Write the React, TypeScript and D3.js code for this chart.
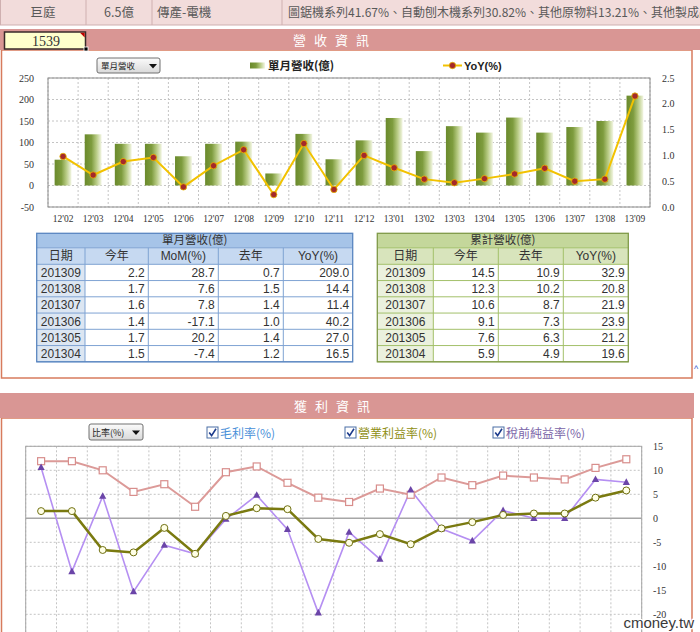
import React from 'react';
import * as d3 from 'd3';

// ---------- data ----------
const months = ["12'02", "12'03", "12'04", "12'05", "12'06", "12'07", "12'08", "12'09", "12'10", "12'11", "12'12", "13'01", "13'02", "13'03", "13'04", "13'05", "13'06", "13'07", "13'08", "13'09"];
const monthlyRevenue = [60, 119, 97, 97, 68, 97, 102, 28, 120, 61, 105, 157, 80, 138, 123, 158, 123, 136, 150, 209];
const yoyRatio = [0.98, 0.62, 0.88, 0.96, 0.39, 0.8, 1.11, 0.24, 1.23, 0.34, 1.0, 0.76, 0.54, 0.47, 0.55, 0.64, 0.75, 0.5, 0.54, 2.15];
const revLeftTicks = [-50, 0, 50, 100, 150, 200, 250];
const revRightTicks = [0, 0.5, 1.0, 1.5, 2.0, 2.5];

const grossMargin = [11.9, 11.9, 10.0, 5.5, 7.1, 2.4, 9.6, 10.8, 7.4, 4.3, 3.4, 6.2, 4.9, 8.5, 6.9, 8.9, 8.5, 8.1, 10.5, 12.3];
const operatingMargin = [1.5, 1.5, -6.6, -7.1, -2.0, -7.4, 0.5, 2.1, 1.9, -4.3, -5.1, -3.3, -5.4, -2.1, -0.8, 0.7, 1.0, 1.0, 4.3, 5.8];
const pretaxMargin = [10.6, -11.1, 4.6, -15.3, -5.6, -7.4, -0.2, 4.8, -2.3, -19.7, -2.9, -8.5, 5.9, -2.2, -4.7, 1.6, 0.0, 0.0, 8.1, 7.5];
const profitTicks = [15, 10, 5, 0, -5, -10, -15, -20];

const headerCells = ['巨庭', '6.5億', '傳產-電機', '圖鋸機系列41.67%、自動刨木機系列30.82%、其他原物料13.21%、其他製成品'];

const tableDates = ['201309', '201308', '201307', '201306', '201305', '201304'];
const monthThisYear = [2.2, 1.7, 1.6, 1.4, 1.7, 1.5];
const monthMoM = [28.7, 7.6, 7.8, -17.1, 20.2, -7.4];
const monthLastYear = [0.7, 1.5, 1.4, 1.0, 1.4, 1.2];
const monthYoY = [209.0, 14.4, 11.4, 40.2, 27.0, 16.5];
const cumThisYear = [14.5, 12.3, 10.6, 9.1, 7.6, 5.9];
const cumLastYear = [10.9, 10.2, 8.7, 7.3, 6.3, 4.9];
const cumYoY = [32.9, 20.8, 21.9, 23.9, 21.2, 19.6];

// ---------- scales ----------
const xRev = d3.scaleBand<string>().domain(months).range([48, 650]);
const yRevL = d3.scaleLinear().domain([-50, 250]).range([207, 78]);
const yRevR = d3.scaleLinear().domain([0, 2.5]).range([207, 78]);
const xPro = d3.scaleBand<string>().domain(months).range([25.7, 641.7]);
const yPro = d3.scaleLinear().domain([-25, 15]).range([638.3, 446.3]);

const f1 = (v: number) => d3.format('.1f')(v).replace('\u2212', '-');
const SANS = "'Liberation Sans', 'Noto Sans CJK TC', sans-serif";
const CJK = "'Noto Sans CJK TC', sans-serif";
const SERIF = "'Liberation Serif', serif";

type TableSpec = {
  edges: number[];
  title: string;
  heads: string[];
  cols: number[][];
  c1: string; c2: string; cDate: string; inner: string; outer: string;
};

const T_TOP = 233.3, T_H1 = 247.8, T_H2 = 264.3, T_ROW = 16.25;

function Table({ spec }: { spec: TableSpec }) {
  const { edges, title, heads, cols, c1, c2, cDate, inner, outer } = spec;
  const x0 = edges[0], x1 = edges[edges.length - 1];
  const yEnd = T_H2 + T_ROW * tableDates.length;
  return (
    <g fontFamily={SANS} fontSize={12} fill="#333">
      <rect x={x0} y={T_TOP} width={x1 - x0} height={T_H1 - T_TOP} fill={c1} />
      <rect x={x0} y={T_H1} width={x1 - x0} height={T_H2 - T_H1} fill={c2} />
      <rect x={x0} y={T_H2} width={edges[1] - x0} height={yEnd - T_H2} fill={cDate} />
      {[T_H1, T_H2, ...tableDates.map((_, i) => T_H2 + T_ROW * (i + 1))].map((y, i) => (
        <line key={'r' + i} x1={x0} x2={x1} y1={y} y2={y} stroke={inner} strokeWidth={1} />
      ))}
      {edges.slice(1, -1).map((x, i) => (
        <line key={'c' + i} x1={x} x2={x} y1={T_H1} y2={yEnd} stroke={inner} strokeWidth={1} />
      ))}
      <rect x={x0} y={T_TOP} width={x1 - x0} height={yEnd - T_TOP} fill="none" stroke={outer} strokeWidth={1.3} />
      <text x={(x0 + x1) / 2} y={T_TOP + 11} textAnchor="middle" fontFamily={CJK} fontSize={11.5}>{title}</text>
      {heads.map((h, i) => (
        <text key={'h' + i} x={(edges[i] + edges[i + 1]) / 2} y={T_H1 + 12.5} textAnchor="middle" fontSize={12}>{h}</text>
      ))}
      {tableDates.map((d, r) => (
        <g key={'d' + r}>
          <text x={(edges[0] + edges[1]) / 2} y={T_H2 + T_ROW * r + 12.5} textAnchor="middle">{d}</text>
          {cols.map((col, c) => (
            <text key={c} x={edges[c + 2] - 3.5} y={T_H2 + T_ROW * r + 12.5} textAnchor="end">{f1(col[r])}</text>
          ))}
        </g>
      ))}
    </g>
  );
}

const leftTable: TableSpec = {
  edges: [36.7, 85, 148.3, 218.3, 283.3, 352.7],
  title: '單月營收(億)',
  heads: ['日期', '今年', 'MoM(%)', '去年', 'YoY(%)'],
  cols: [monthThisYear, monthMoM, monthLastYear, monthYoY],
  c1: '#a6c4e8', c2: '#c6d9f1', cDate: '#dce6f2', inner: '#7fa3d3', outer: '#5a86c0',
};
const rightTable: TableSpec = {
  edges: [377.3, 433.3, 498.3, 563.3, 628.3],
  title: '累計營收(億)',
  heads: ['日期', '今年', '去年', 'YoY(%)'],
  cols: [cumThisYear, cumLastYear, cumYoY],
  c1: '#c4d79b', c2: '#d8e4bc', cDate: '#ebf1de', inner: '#a3c06a', outer: '#7f9a48',
};

function Checkbox({ x, y }: { x: number; y: number }) {
  return (
    <g>
      <rect x={x} y={y} width={11} height={11} fill="#fff" stroke="#4a6fa5" strokeWidth={1} />
      <path d={`M${x + 2.2},${y + 5.5} L${x + 4.6},${y + 8.6} L${x + 9},${y + 1.8}`} fill="none" stroke="#1d3c8c" strokeWidth={1.6} />
    </g>
  );
}

export default function App() {
  const bw = xRev.bandwidth();
  const barW = bw * 0.56;
  const pbw = xPro.bandwidth();
  const cxR = (i: number) => (xRev(months[i]) as number) + bw / 2;
  const cxP = (i: number) => (xPro(months[i]) as number) + pbw / 2;

  const yoyLine = d3.line<number>().x((_, i) => cxR(i)).y((d) => yRevR(d))(yoyRatio) || '';
  const proLine = (arr: number[]) => d3.line<number>().x((_, i) => cxP(i)).y((d) => yPro(d))(arr) || '';

  const revBoundaries = d3.range(months.length + 1).map((i) => 48 + i * bw);
  const proBoundaries = d3.range(months.length + 1).map((i) => 25.7 + i * pbw);

  return (
    <svg width={700} height={632} style={{ position: 'absolute', left: 0, top: 0, background: '#fff' }}>
      <defs>
        <linearGradient id="barGrad" x1="0" x2="1" y1="0" y2="0">
          <stop offset="0" stopColor="#6a8a2c" />
          <stop offset="0.4" stopColor="#7e9c3e" />
          <stop offset="0.7" stopColor="#b9cc86" />
          <stop offset="1" stopColor="#f3f6e4" />
        </linearGradient>
        <linearGradient id="ddGrad" x1="0" x2="0" y1="0" y2="1">
          <stop offset="0" stopColor="#fbfbfb" />
          <stop offset="1" stopColor="#d9d9d9" />
        </linearGradient>
      </defs>

      {/* top info row */}
      <rect x={0} y={0} width={700} height={25} fill="#f2dcdb" />
      <line x1={0} x2={700} y1={25} y2={25} stroke="#cfb0b0" />
      <line x1={0.5} x2={0.5} y1={0} y2={25} stroke="#cfb0b0" />
      {[86, 152, 282].map((x) => (
        <line key={x} x1={x} x2={x} y1={0} y2={25} stroke="#cfb0b0" />
      ))}
      <g fontFamily={CJK} fontSize={12.5} fill="#595959">
        <text x={43} y={17} textAnchor="middle">{headerCells[0]}</text>
        <text x={119} y={17} textAnchor="middle">{headerCells[1]}</text>
        <text x={157} y={17}>{headerCells[2]}</text>
        <text x={288} y={17} fontSize={12}>{headerCells[3]}</text>
      </g>

      {/* revenue panel */}
      <rect x={1.5} y={50} width={690.5} height={328} fill="#fff" stroke="#d77b5d" strokeWidth={1.5} />
      <rect x={0} y={29} width={700} height={21} fill="#d99694" />
      <text x={293} y={44.5} fill="#fff" fontFamily={CJK} fontSize={13} letterSpacing={8}>營收資訊</text>
      <rect x={4.5} y={32} width={81} height={17} fill="#ffffcc" stroke="#3a2a2a" strokeWidth={1.5} />
      <path d="M80,32.8 L84.7,32.8 L84.7,37.5 Z" fill="#c00000" />
      <rect x={84} y={47} width={4} height={4} fill="#000" stroke="#fff" strokeWidth={0.8} />
      <text x={46} y={45.5} textAnchor="middle" fontFamily={SERIF} fontSize={14} fill="#333">1539</text>

      {/* revenue dropdown + legend */}
      <rect x={97} y={58} width={63} height={15} rx={2} fill="url(#ddGrad)" stroke="#707070" />
      <text x={101} y={69} fontFamily={CJK} fontSize={8.5} fill="#222">單月營收</text>
      <path d="M149,64 L157,64 L153,68.5 Z" fill="#111" />
      <rect x={250} y={62.5} width={15} height={6} fill="url(#barGrad)" />
      <text x={268} y={70} fontFamily={CJK} fontSize={11.5} fontWeight="bold" fill="#222">單月營收(億)</text>
      <line x1={443} x2={462} y1={65.5} y2={65.5} stroke="#f2c200" strokeWidth={2} />
      <circle cx={452.5} cy={65.5} r={3.2} fill="#a5292a" stroke="#e8b800" strokeWidth={0.8} />
      <text x={464} y={70} fontFamily={SANS} fontSize={11} fontWeight="bold" fill="#222">YoY(%)</text>

      {/* revenue grid */}
      <g stroke="#c4c4c4" strokeDasharray="2,2" strokeWidth={1}>
        {revLeftTicks.map((t) => (
          <line key={'h' + t} x1={48} x2={650} y1={yRevL(t)} y2={yRevL(t)} />
        ))}
        {revBoundaries.map((x, i) => (
          <line key={'v' + i} x1={x} x2={x} y1={78} y2={207} />
        ))}
      </g>
      {monthlyRevenue.map((v, i) => (
        <rect key={'b' + i} x={cxR(i) - barW / 2} y={yRevL(v)} width={barW} height={yRevL(0) - yRevL(v)} fill="url(#barGrad)" />
      ))}
      <rect x={48} y={78} width={602} height={129} fill="none" stroke="#8c8c8c" strokeWidth={1} />
      <path d={yoyLine} fill="none" stroke="#f2c200" strokeWidth={2} />
      {yoyRatio.map((v, i) => (
        <circle key={'y' + i} cx={cxR(i)} cy={yRevR(v)} r={3.2} fill="#a5292a" stroke="#e8b800" strokeWidth={0.8} />
      ))}
      <g fontFamily={SERIF} fontSize={10} fill="#333">
        {revLeftTicks.map((t) => (
          <text key={'l' + t} x={34} y={yRevL(t) + 3.5} textAnchor="end">{t}</text>
        ))}
        {revRightTicks.map((t) => (
          <text key={'r' + t} x={662} y={yRevR(t) + 3.5}>{f1(t)}</text>
        ))}
        {months.map((m, i) => (
          <text key={'m' + i} x={cxR(i)} y={222} textAnchor="middle" fontSize={9.5}>{m}</text>
        ))}
      </g>

      <Table spec={leftTable} />
      <Table spec={rightTable} />
      <text x={694} y={372} fontFamily={SANS} fontSize={9} fill="#3355cc">^</text>

      {/* profit panel */}
      <rect x={1.5} y={418} width={690.5} height={260} fill="#fff" stroke="#d77b5d" strokeWidth={1.5} />
      <rect x={0} y={393} width={694} height={25} fill="#d99694" />
      <text x={294} y={410.5} fill="#fff" fontFamily={CJK} fontSize={13} letterSpacing={8}>獲利資訊</text>

      <rect x={89} y={424} width={54} height={16} rx={2} fill="url(#ddGrad)" stroke="#707070" />
      <text x={92} y={435.5} fontFamily={CJK} fontSize={9} fill="#222">比率(%)</text>
      <path d="M132,430.5 L140,430.5 L136,435 Z" fill="#111" />

      <Checkbox x={207} y={427} />
      <text x={220} y={437.5} fontFamily={CJK} fontSize={12} fill="#4a90d9">毛利率(%)</text>
      <Checkbox x={345} y={427} />
      <text x={358} y={437.5} fontFamily={CJK} fontSize={12} fill="#8f8f14">營業利益率(%)</text>
      <Checkbox x={493} y={427} />
      <text x={506} y={437.5} fontFamily={CJK} fontSize={12} fill="#7a65a8">稅前純益率(%)</text>

      {/* profit grid */}
      <g stroke="#c4c4c4" strokeDasharray="2,2" strokeWidth={1}>
        {profitTicks.filter((t) => t !== 0).map((t) => (
          <line key={'ph' + t} x1={25.7} x2={641.7} y1={yPro(t)} y2={yPro(t)} />
        ))}
        {proBoundaries.map((x, i) => (
          <line key={'pv' + i} x1={x} x2={x} y1={446.3} y2={638} />
        ))}
      </g>
      <line x1={25.7} x2={641.7} y1={yPro(0)} y2={yPro(0)} stroke="#a6a6a6" strokeWidth={1.5} />
      <rect x={25.7} y={446.3} width={616} height={192} fill="none" stroke="#a6a6a6" strokeWidth={1} />

      <path d={proLine(grossMargin)} fill="none" stroke="#dc9a98" strokeWidth={2} />
      <path d={proLine(pretaxMargin)} fill="none" stroke="#b58ff2" strokeWidth={1.6} />
      <path d={proLine(operatingMargin)} fill="none" stroke="#7a7a10" strokeWidth={2.5} />

      {grossMargin.map((v, i) => (
        <rect key={'gm' + i} x={cxP(i) - 3.5} y={yPro(v) - 3.5} width={7} height={7} fill="#fff" stroke="#d88e8c" strokeWidth={1.2} />
      ))}
      {pretaxMargin.map((v, i) => {
        const x = cxP(i), y = yPro(v);
        return <path key={'pt' + i} d={`M${x},${y - 4} L${x - 3.6},${y + 2.6} L${x + 3.6},${y + 2.6} Z`} fill="#6b45a8" />;
      })}
      {operatingMargin.map((v, i) => (
        <circle key={'om' + i} cx={cxP(i)} cy={yPro(v)} r={3.5} fill="#ffffe6" stroke="#6f6f10" strokeWidth={1} />
      ))}

      <g fontFamily={SERIF} fontSize={10} fill="#333">
        {profitTicks.map((t) => (
          <text key={'ptk' + t} x={653} y={yPro(t) + 3.5}>{t}</text>
        ))}
      </g>

      <text x={694} y={628} textAnchor="end" fontFamily={SANS} fontSize={15} fill="#3a3a3a" stroke="#fff" strokeWidth={2.5} paintOrder="stroke">cmoney.tw</text>
    </svg>
  );
}
